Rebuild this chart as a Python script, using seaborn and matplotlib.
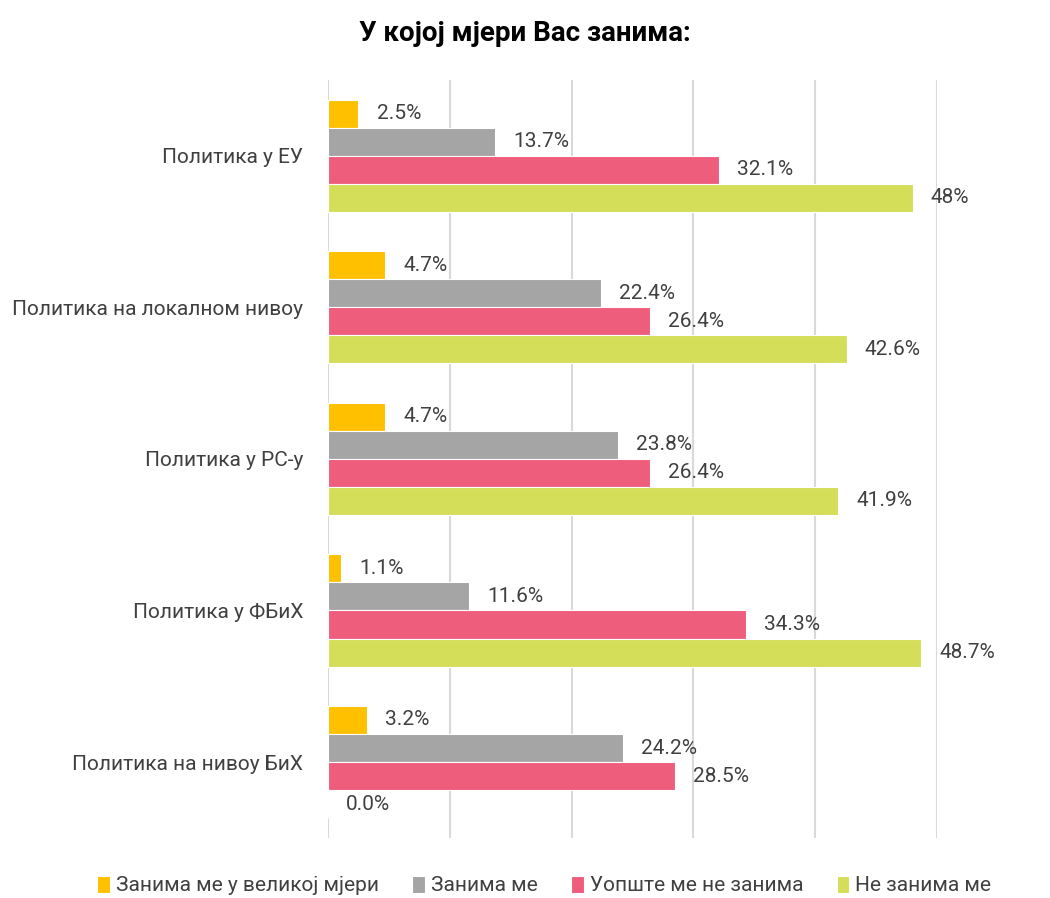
import matplotlib
matplotlib.use("Agg")
import matplotlib.pyplot as plt
import pandas as pd
import seaborn as sns

categories = ["Политика у ЕУ", "Политика на локалном нивоу", "Политика у РС-у",
              "Политика у ФБиХ", "Политика на нивоу БиХ"]
series = ["Занима ме у великој мјери", "Занима ме", "Уопште ме не занима", "Не занима ме"]
values = {
    "Занима ме у великој мјери": [2.5, 4.7, 4.7, 1.1, 3.2],
    "Занима ме": [13.7, 22.4, 23.8, 11.6, 24.2],
    "Уопште ме не занима": [32.1, 26.4, 26.4, 34.3, 28.5],
    "Не занима ме": [48.0, 42.6, 41.9, 48.7, 0.0],
}
labels = {
    "Занима ме у великој мјери": ["2.5%", "4.7%", "4.7%", "1.1%", "3.2%"],
    "Занима ме": ["13.7%", "22.4%", "23.8%", "11.6%", "24.2%"],
    "Уопште ме не занима": ["32.1%", "26.4%", "26.4%", "34.3%", "28.5%"],
    "Не занима ме": ["48%", "42.6%", "41.9%", "48.7%", "0.0%"],
}
colors = ["#FFC000", "#A5A5A5", "#EF5D7C", "#D4DE58"]

rows = []
for s in series:
    for c, v in zip(categories, values[s]):
        rows.append({"category": c, "series": s, "value": v})
df = pd.DataFrame(rows)

sns.set_style("white")
plt.rcParams["font.family"] = ["Roboto", "DejaVu Sans"]
text_color = "#404040"

fig = plt.figure(figsize=(10.5, 8.98), dpi=100)
ax = fig.add_axes([0.3124, 0.067, 0.5800, 0.844])

sns.barplot(data=df, y="category", x="value", hue="series", orient="h",
            palette=colors, hue_order=series, order=categories,
            width=0.74, saturation=1, edgecolor="white", linewidth=0.8, ax=ax)

for cont, s in zip(ax.containers, series):
    ax.bar_label(cont, labels=labels[s], padding=13, fontsize=15, color=text_color)

ax.set_xlim(0, 50)
ax.set_xticks([0, 10, 20, 30, 40, 50])
ax.xaxis.grid(True, color="#D9D9D9", linewidth=1.5)
ax.set_axisbelow(True)
ax.tick_params(axis="x", length=0, labelbottom=False)
ax.tick_params(axis="y", length=0, pad=18, labelsize=15, labelcolor=text_color)
ax.set_xlabel("")
ax.set_ylabel("")
for sp in ax.spines.values():
    sp.set_visible(False)

ax.legend(loc="upper center", bbox_to_anchor=(0.355, -0.025), ncol=4, frameon=False,
          fontsize=15, labelcolor=text_color, handlelength=0.6, handleheight=0.9,
          handletextpad=0.3, columnspacing=1.6)

fig.suptitle("У којој мјери Вас занима:", fontsize=20, fontweight="bold",
             x=0.5, y=0.978, color="black")

fig.savefig("out.png", dpi=100)
